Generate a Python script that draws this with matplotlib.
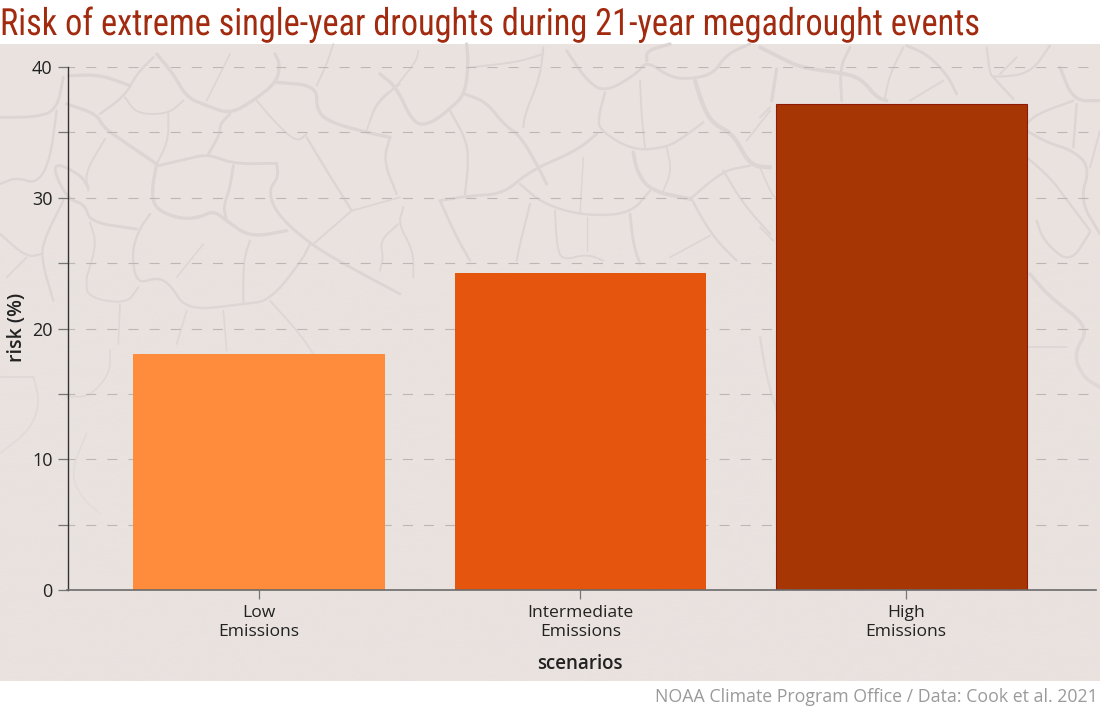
import numpy as np
import matplotlib.pyplot as plt
from matplotlib.colors import to_rgb
from matplotlib.patches import Rectangle
from matplotlib.patheffects import AbstractPathEffect
from matplotlib.transforms import Affine2D

plt.rcParams['font.family'] = ['Open Sans', 'DejaVu Sans']

# chart values
scenarios = ['Low\nEmissions', 'Intermediate\nEmissions', 'High\nEmissions']
risk = [18.05, 24.25, 37.2]
bar_pos = [0, 1, 2]
tick_pos = [0, 1, 2.014]  # the High tick sits a little right of its bar in the original
bar_colors = ['#FF8C3C', '#E6550D', '#A63603']
y_ticks = [0, 5, 10, 15, 20, 25, 30, 35, 40]
y_labels = ['0', '', '10', '', '20', '', '30', '', '40']

PANEL = '#e9e2df'
CRACK = '#dcd5d3'

crack_a = (0, 44, [
    [1.4, (470, 30), (520, 90), (560, 160), (620, 185), (690, 210), (760, 170), (830, 115), (840, 60), (825, 30)],
    [1.4, (205, 95), (300, 92), (390, 125)],
    [1.0, (460, 40), (410, 90), (375, 155), (300, 210)],
    [1.4, (200, 180), (290, 210), (310, 250), (360, 285), (470, 360)],
    [1.2, (475, 365), (560, 345), (625, 330), (700, 360), (830, 358)],
    [1.2, (690, 210), (660, 240), (660, 270), (625, 330)],
    [1.4, (470, 360), (455, 440), (465, 495), (540, 525), (600, 520), (640, 500), (680, 530), (750, 580), (860, 560)],
    [1.2, (700, 365), (690, 430), (670, 490), (680, 530)],
    [1.4, (830, 115), (950, 125), (950, 200), (990, 235), (1100, 265), (1170, 280)],
    [0.8, (770, 170), (830, 240), (890, 295), (920, 270)],
    [1.0, (920, 280), (980, 380), (1055, 500)],
    [1.2, (830, 358), (835, 400), (805, 440), (830, 510), (930, 600), (1050, 670), (1200, 750)],
    [0.8, (1055, 500), (940, 600)],
    [1.0, (930, 600), (905, 650), (810, 770), (730, 780), (560, 800), (510, 720), (470, 700), (410, 720), (395, 630), (415, 560), (450, 510)],
    [1.2, (410, 555), (270, 535), (255, 480), (200, 465), (150, 350), (240, 390), (265, 430)],
    [0.8, (315, 285), (255, 385), (265, 440)],
    [0.6, (610, 600), (530, 700)],
    [0.9, (750, 590), (730, 650), (730, 780)],
    [1.2, (0, 220), (100, 220), (170, 200), (190, 100)],
    [1.0, (170, 200), (150, 350), (110, 420), (50, 400), (0, 420)],
    [1.0, (190, 470), (130, 590), (125, 650), (160, 770)],
    [0.9, (0, 570), (80, 640), (125, 630)],
    [0.8, (260, 700), (260, 760), (380, 780), (415, 730)],
    [0.8, (270, 535), (290, 600), (260, 700)],
    [0.7, (360, 780), (355, 900)],
    [0.7, (80, 640), (20, 700)],
    [0.7, (560, 800), (530, 900)],
    [0.7, (670, 800), (680, 920)],
    [0.8, (810, 770), (900, 870), (940, 930)],
    [0.7, (1055, 500), (1200, 460)],
    [0.8, (505, 210), (505, 290), (470, 360)],
    [0.8, (375, 160), (410, 210), (505, 210), (550, 170)],
    [0.7, (690, 30), (620, 170)],
    [0.8, (1000, 0), (980, 60), (950, 125)],
    [1.0, (1170, 280), (1150, 350), (1190, 450)],
    [0.7, (1200, 120), (1130, 170), (1100, 260)],
])
crack_b = (370, 44, [
    [1.2, (210, 470), (300, 455), (400, 450), (480, 380), (620, 320), (680, 270)],
    [1.4, (290, 0), (295, 60), (285, 150), (240, 195), (180, 240), (130, 240), (80, 130), (30, 90)],
    [1.3, (285, 150), (350, 175), (400, 240), (450, 275), (500, 360), (530, 420)],
    [1.0, (240, 200), (290, 290), (295, 360), (285, 450)],
    [0.7, (80, 125), (140, 50), (145, 20)],
    [0.8, (80, 125), (20, 180), (0, 230)],
    [0.9, (520, 10), (510, 100), (465, 210), (460, 250)],
    [1.2, (590, 20), (650, 110), (705, 145), (800, 90), (830, 50), (900, 100), (960, 105), (1030, 90), (1070, 30), (1140, 0)],
    [1.4, (830, 50), (830, 20), (900, 0)],
    [1.0, (705, 145), (685, 220), (690, 260), (790, 320), (890, 310), (940, 280), (1000, 235)],
    [1.8, (975, 110), (1000, 190), (1030, 240), (1090, 270), (1140, 365), (1200, 370)],
    [0.8, (810, 110), (815, 220), (825, 310)],
    [1.6, (790, 325), (800, 380), (840, 440), (960, 465)],
    [1.0, (840, 440), (780, 510), (640, 515), (520, 480), (450, 420)],
    [0.7, (890, 310), (905, 380), (880, 440)],
    [1.0, (960, 465), (1060, 380), (1140, 365)],
    [1.0, (965, 465), (1000, 530), (1040, 590), (1100, 650)],
    [0.9, (1060, 380), (1120, 480), (1200, 570)],
    [1.2, (780, 510), (790, 600), (810, 660)],
    [1.1, (210, 470), (260, 580), (300, 650)],
    [0.8, (100, 490), (85, 540), (130, 620), (130, 700)],
    [0.8, (85, 540), (30, 590), (40, 640), (30, 680)],
    [0.9, (480, 480), (450, 600), (440, 650)],
    [0.8, (555, 500), (560, 600), (575, 650), (650, 630), (700, 650)],
    [0.6, (650, 520), (650, 620)],
    [0.6, (640, 340), (630, 510)],
    [0.7, (1020, 575), (900, 640)],
    [0.8, (300, 70), (440, 55), (520, 30)],
    [0.8, (1200, 200), (1130, 290)],
])
crack_c = (760, 44, [
    [1.6, (0, 10), (60, 40), (120, 70), (230, 85), (300, 100), (350, 160), (380, 170)],
    [1.2, (270, 10), (240, 70), (245, 170)],
    [1.4, (50, 75), (35, 170)],
    [0.8, (430, 10), (390, 90), (375, 160)],
    [1.2, (440, 5), (500, 30), (560, 90), (590, 150)],
    [0.9, (680, 10), (690, 90), (700, 100), (810, 90), (870, 5)],
    [1.0, (700, 100), (760, 165)],
    [0.8, (770, 40), (720, 90)],
    [1.4, (900, 70), (940, 170), (1020, 170)],
    [1.0, (940, 170), (830, 210), (800, 240)],
    [1.2, (800, 260), (860, 295), (940, 320), (990, 370), (960, 470), (1020, 570)],
    [1.0, (950, 180), (940, 310)],
    [1.0, (800, 340), (870, 400), (930, 480), (990, 560)],
    [1.0, (990, 565), (930, 660), (850, 590), (830, 530)],
    [1.5, (810, 690), (870, 760), (990, 850), (940, 930), (970, 1000), (1020, 1030)],
    [0.8, (800, 910), (920, 910)],
    [0.8, (0, 220), (30, 190)],
    [0.7, (0, 370), (30, 440), (50, 470)],
    [0.7, (0, 550), (40, 590)],
    [1.0, (0, 880), (20, 1000), (50, 1100)],
    [0.8, (550, 110), (450, 170)],
    [0.8, (1020, 260), (990, 370)],
])
crack_d = (0, 340, [
    [0.7, (100, 110), (120, 190), (90, 270), (0, 340)],
    [0.7, (0, 110), (100, 110)],
    [0.7, (200, 170), (270, 170), (330, 100), (330, 30)],
    [0.7, (260, 280), (210, 400), (250, 480), (300, 520)],
])


def smooth(pts, rounds=3):
    # corner cutting so the traced cracks do not look like polygons
    for _ in range(rounds):
        q = 0.75 * pts[:-1] + 0.25 * pts[1:]
        r = 0.25 * pts[:-1] + 0.75 * pts[1:]
        mid = np.empty((2 * len(q), 2))
        mid[0::2] = q
        mid[1::2] = r
        pts = np.vstack([pts[0], mid, pts[-1]])
    return pts


class Squeeze(AbstractPathEffect):
    # no font here is as narrow as the title's, so squeeze the glyphs sideways
    def __init__(self, xscale):
        super().__init__()
        self.xscale = xscale

    def draw_path(self, renderer, gc, tpath, affine, rgbFace=None):
        renderer.draw_path(gc, tpath, affine + Affine2D().scale(self.xscale, 1), rgbFace)


fig = plt.figure(figsize=(11, 7.08), dpi=100, facecolor='white')

# backdrop axes works in image pixels
bg = fig.add_axes([0, 0, 1, 1])
panel = Rectangle((0, 44), 1100, 637, facecolor=PANEL, edgecolor='none')
bg.add_patch(panel)
for left, top, lines in [crack_a, crack_b, crack_c, crack_d]:
    for line in lines:
        pts = smooth(np.array(line[1:], dtype=float) / 3 + [left, top])
        bg.plot(pts[:, 0], pts[:, 1], color=CRACK, lw=line[0] * 1.7,
                solid_joinstyle='round', solid_capstyle='round', clip_path=panel)

# cracks fade out towards the bottom of the panel
fade = np.zeros((256, 1, 4))
fade[..., :3] = to_rgb(PANEL)
fade[:, 0, 3] = np.clip(np.linspace(-0.5, 1.1, 256), 0, 1) ** 1.2
bg.imshow(fade, extent=(0, 1100, 681, 44), aspect='auto', zorder=5)
bg.set_xlim(0, 1100)
bg.set_ylim(708, 0)
bg.axis('off')

L, R, B, T = 67.5, 1096, 590, 67
ax = fig.add_axes([L / 1100, 1 - B / 708, (R - L) / 1100, (B - T) / 708])
ax.patch.set_alpha(0)
bars = ax.bar(bar_pos, risk, width=0.783, color=bar_colors)
bars[2].set_edgecolor('#8f1a08')
bars[2].set_linewidth(0.8)
ax.set_xlim(-0.596, 2.605)
ax.set_ylim(0, 40)

ax.set_axisbelow(True)
ax.yaxis.grid(True, color='#bdb6b4', lw=0.8, ls=(3, (9, 10)))
ax.set_yticks(y_ticks)
ax.set_yticklabels(y_labels, fontsize=13, color='#222222')
ax.set_xticks(tick_pos)
ax.set_xticklabels(scenarios, fontsize=12.6, color='#222222', linespacing=1.2)
ax.tick_params(axis='y', length=7.2, width=0.9, color='#777777', pad=3.6)
ax.tick_params(axis='x', length=6.5, width=0.9, color='#777777', pad=4.6)

for side in ['top', 'right']:
    ax.spines[side].set_visible(False)
ax.spines['left'].set_color('#333333')
ax.spines['left'].set_linewidth(1.0)
ax.spines['bottom'].set_color('#6b6b6b')
ax.spines['bottom'].set_linewidth(1.2)

fig.text(580 / 1100, 1 - 664 / 708, 'scenarios', ha='center', va='center',
         fontsize=13.5, fontweight=600, color='#222222')
fig.text(17 / 1100, 1 - 327 / 708, 'risk (%)', ha='center', va='center', rotation=90,
         fontsize=14, fontweight=600, color='#222222')

title = fig.text(0, 1 - 35 / 708, 'Risk of extreme single-year droughts during 21-year megadrought events',
                 ha='left', va='baseline', fontsize=27, color='#a12a0f',
                 family=['Roboto Condensed', 'DejaVu Sans'], fontweight=400)
title.set_path_effects([Squeeze(0.915)])
fig.text(1098 / 1100, 1 - 702 / 708, 'NOAA Climate Program Office / Data: Cook et al. 2021',
         ha='right', va='baseline', fontsize=12.8, color='#9a9a9a')

fig.savefig('out.png', dpi=100)
